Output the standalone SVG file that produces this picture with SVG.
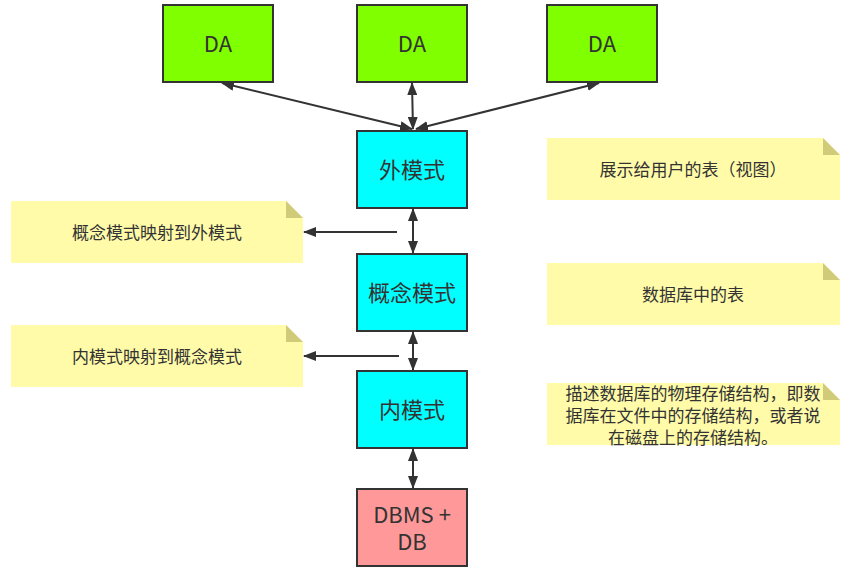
<svg xmlns="http://www.w3.org/2000/svg" width="850" height="568" viewBox="0 0 850 568">
<style>
.box{stroke:#333;stroke-width:2}
.da{fill:#80ff00}
.cy{fill:#00ffff}
.db{fill:#ff9999}
.t{font-family:"Microsoft YaHei","Noto Sans CJK SC","Noto Sans",sans-serif;fill:#333;text-anchor:middle;dominant-baseline:central}
.big{font-size:22px}
.sm{font-size:17px}
.note{fill:#fffba9}
.fold{fill:#cfcb78}
.c{stroke:#333;stroke-width:2;fill:none}
</style>
<defs>
<marker id="ah" markerUnits="userSpaceOnUse" markerWidth="13" markerHeight="10" refX="12" refY="5" orient="auto-start-reverse">
<path d="M0,0 L13,5 L0,10 z" fill="#333"/>
</marker>
</defs>
<rect width="850" height="568" fill="#fff"/>
<g id="da1"><rect class="box da" x="163" y="5" width="110" height="77"/><text class="t big" x="218" y="42">DA</text></g>
<g id="da2"><rect class="box da" x="357" y="5" width="110" height="77"/><text class="t big" x="412" y="42">DA</text></g>
<g id="da3"><rect class="box da" x="547" y="5" width="110" height="77"/><text class="t big" x="602" y="42">DA</text></g>
<g id="external"><rect class="box cy" x="357" y="131" width="110" height="77"/><text class="t big" x="412" y="168">外模式</text></g>
<g id="conceptual"><rect class="box cy" x="357" y="254" width="110" height="77"/><text class="t big" x="412" y="291">概念模式</text></g>
<g id="internal"><rect class="box cy" x="357" y="371" width="110" height="77"/><text class="t big" x="412" y="408">内模式</text></g>
<g id="dbms"><rect class="box db" x="357" y="489" width="110" height="77"/><text class="t big" x="412" y="513">DBMS +<tspan x="412" dy="27">DB</tspan></text></g>
<g id="note-left1"><path class="note" d="M11,201 H286 L303,218 V263 H11 z"/><path class="fold" d="M286,201 L303,218 H286 z"/><text class="t sm" x="157" y="231">概念模式映射到外模式</text></g>
<g id="note-left2"><path class="note" d="M11,325 H286 L303,342 V387 H11 z"/><path class="fold" d="M286,325 L303,342 H286 z"/><text class="t sm" x="157" y="355">内模式映射到概念模式</text></g>
<g id="note-right1"><path class="note" d="M547,138 H823 L840,155 V200 H547 z"/><path class="fold" d="M823,138 L840,155 H823 z"/><text class="t sm" x="693" y="168">展示给用户的表（视图）</text></g>
<g id="note-right2"><path class="note" d="M547,263 H823 L840,280 V325 H547 z"/><path class="fold" d="M823,263 L840,280 H823 z"/><text class="t sm" x="693" y="293">数据库中的表</text></g>
<g id="note-right3"><path class="note" d="M547,383 H823 L840,400 V445 H547 z"/><path class="fold" d="M823,383 L840,400 H823 z"/><text class="t sm" x="693" y="392">描述数据库的物理存储结构，即数<tspan x="693" dy="22">据库在文件中的存储结构，或者说</tspan><tspan x="693" dy="22">在磁盘上的存储结构。</tspan></text></g>
<g id="connectors">
<line class="c" x1="222" y1="83" x2="412" y2="129" marker-start="url(#ah)" marker-end="url(#ah)"/>
<line class="c" x1="412" y1="83" x2="413" y2="129" marker-start="url(#ah)" marker-end="url(#ah)"/>
<line class="c" x1="599" y1="83" x2="416" y2="129" marker-start="url(#ah)" marker-end="url(#ah)"/>
<line class="c" x1="413" y1="209" x2="413" y2="253" marker-start="url(#ah)" marker-end="url(#ah)"/>
<line class="c" x1="413" y1="332" x2="413" y2="370" marker-start="url(#ah)" marker-end="url(#ah)"/>
<line class="c" x1="413" y1="449" x2="413" y2="488" marker-start="url(#ah)" marker-end="url(#ah)"/>
<line class="c" x1="397" y1="232" x2="304" y2="232" marker-end="url(#ah)"/>
<line class="c" x1="399" y1="356" x2="304" y2="356" marker-end="url(#ah)"/>
</g>
</svg>
